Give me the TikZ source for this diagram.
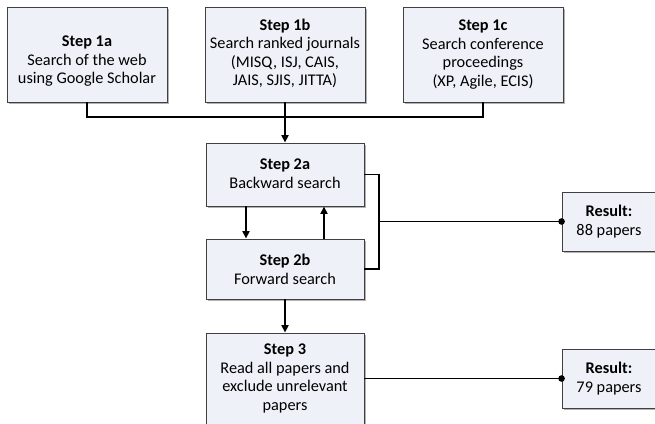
\documentclass[tikz,border=0pt]{standalone}
\usepackage{fontspec}
\setmainfont{Carlito}
\usetikzlibrary{arrows.meta,shadows}
\definecolor{boxfill}{RGB}{238,242,248}
\definecolor{boxline}{RGB}{64,64,64}
\begin{document}
\begin{tikzpicture}[x=1pt,y=-1pt,
 box/.style={draw=boxline,line width=0.9pt,fill=boxfill,inner sep=0pt,
   drop shadow={shadow xshift=1.5pt,shadow yshift=-1.5pt,opacity=0.3,fill=black}},
 txt/.style={align=center,font=\fontsize{16.3}{18.5}\selectfont,inner sep=0pt},
 conn/.style={line width=1.7pt,black},
 arr/.style={conn,-{Triangle[length=7.5pt,width=7pt]}},
 dot/.style={fill=black}
 ]
\useasboundingbox (0,0) rectangle (655,423);
% boxes
\node[box,minimum width=160pt,minimum height=95pt] (s1a) at (87,54.5) {};
\node[box,minimum width=160pt,minimum height=95pt] (s1b) at (285,54.5) {};
\node[box,minimum width=160pt,minimum height=95pt] (s1c) at (483,54.5) {};
\node[box,minimum width=158pt,minimum height=63pt] (s2a) at (285,174.5) {};
\node[box,minimum width=158pt,minimum height=60pt] (s2b) at (285,269) {};
\node[box,minimum width=158pt,minimum height=91pt] (s3) at (285,378.5) {};
\node[box,minimum width=94pt,minimum height=59pt] (r1) at (609,221.5) {};
\node[box,minimum width=94pt,minimum height=59pt] (r2) at (609,378.5) {};
% texts
\node[txt] (t1a) at (87,61.5) {\textbf{Step 1a}\\Search of the web\\using Google Scholar};
\node[txt] (t1b) at (285,53.5) {\textbf{Step 1b}\\Search ranked journals\\(MISQ, ISJ, CAIS,\\JAIS, SJIS, JITTA)};
\node[txt] (t1c) at (483,54.5) {\textbf{Step 1c}\\Search conference\\proceedings\\(XP, Agile, ECIS)};
\node[txt] (t2a) at (285,173.5) {\textbf{Step 2a}\\Backward search};
\node[txt] (t2b) at (285,269.5) {\textbf{Step 2b}\\Forward search};
\node[txt] (t3) at (285,378.5) {\textbf{Step 3}\\Read all papers and\\exclude unrelevant\\papers};
\node[txt] (tr1) at (609,221.5) {\textbf{Result:}\\88 papers};
\node[txt] (tr2) at (609,378.5) {\textbf{Result:}\\79 papers};
% connectors
\coordinate (j) at (285,117);
\draw[conn] (s1a.south) |- (j) -| (s1c.south);
\draw[arr] (s1b.south) -- (s2a.north);
\draw[arr] ([xshift=-39pt]s2a.south) -- ([xshift=-39pt]s2b.north);
\draw[arr] ([xshift=39pt]s2b.north) -- ([xshift=39pt]s2a.south);
\coordinate (bt) at (379,174.5);
\coordinate (bb) at (379,269);
\draw[line width=1.5pt] (s2a.east) -- (bt) -- (bb) -- (s2b.east);
\draw[conn] (bt |- r1.west) -- (r1.west);
\fill[dot] (r1.west) circle (3.3pt);
\draw[arr] (s2b.south) -- (s3.north);
\draw[conn] (s3.east) -- (r2.west);
\fill[dot] (r2.west) circle (3.3pt);
\end{tikzpicture}
\end{document}
